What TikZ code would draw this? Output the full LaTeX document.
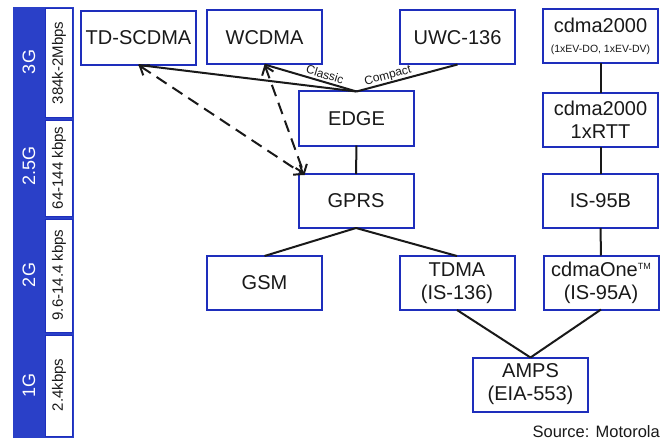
\documentclass[tikz,border=0pt]{standalone}
\usepackage{fontspec}
\setmainfont{Liberation Sans}
\usetikzlibrary{arrows.meta}
\definecolor{barblue}{RGB}{42,64,200}
\definecolor{edgeblue}{RGB}{30,46,188}
\definecolor{ink}{RGB}{25,25,25}
\tikzset{
  gen/.style={draw=edgeblue, line width=2pt, fill=white, minimum width=115pt,
    minimum height=54pt, inner sep=0pt, outer sep=0pt, align=center,
    text=ink, font=\fontsize{20}{23}\selectfont},
  link/.style={line width=2pt, draw=ink},
  migr/.style={link, dash pattern=on 12pt off 7pt,
    {Straight Barb[length=8pt,width=12pt]}-{Straight Barb[length=8pt,width=12pt]}},
  genlabel/.style={rotate=90, text=white, font=\fontsize{18}{20}\selectfont},
  ratelabel/.style={rotate=90, text=ink, font=\fontsize{15}{17}\selectfont},
  ratebox/.style={draw=edgeblue, line width=1pt, fill=white},
  tag/.style={text=ink, font=\fontsize{12}{14}\selectfont, inner sep=0pt}
}
\begin{document}
\begin{tikzpicture}[x=1pt, y=-1pt]
\useasboundingbox (0,0) rectangle (667,444);

% generation column with data rates
\fill[barblue] (13,7) rectangle (74,438);
\draw[ratebox] (45,9) rectangle (72,117);
\draw[ratebox] (45,120) rectangle (72,216);
\draw[ratebox] (45,219) rectangle (72,332);
\draw[ratebox] (45,335) rectangle (72,436);
\node[genlabel] (g3)  at (29,62)  {3G};
\node[genlabel] (g25) at (29,166) {2.5G};
\node[genlabel] (g2)  at (29,275) {2G};
\node[genlabel] (g1)  at (29,385) {1G};
\node[ratelabel] (r3)  at (59,63)  {384k-2Mbps};
\node[ratelabel] (r25) at (59,168) {64-144 kbps};
\node[ratelabel] (r2)  at (59,275) {9.6-14.4 kbps};
\node[ratelabel] (r1)  at (59,385) {2.4kbps};

% technologies
\node[gen] (tdscdma) at (138.5,38)  {TD-SCDMA};
\node[gen] (wcdma)   at (264.5,37.5){WCDMA};
\node[gen] (uwc)     at (457.5,37.5){UWC-136};
\node[gen] (cdmaA)   at (600.5,36.5){cdma2000\\[-3pt]{\fontsize{10.5}{12}\selectfont (1xEV-DO, 1xEV-DV)}};
\node[gen] (cdmaB)   at (600.5,120) {cdma2000\\1xRTT};
\node[gen] (edge)    at (356.5,118.5){EDGE};
\node[gen] (gprs)    at (356,201)   {GPRS};
\node[gen] (isb)     at (600.5,201) {IS-95B};
\node[gen] (gsm)     at (264.5,283) {GSM};
\node[gen] (tdma)    at (457,283)   {TDMA\\(IS-136)};
\node[gen] (cdmaone) at (601,282.5) {cdmaOne\raisebox{7pt}{\fontsize{9}{10}\selectfont TM}\\(IS-95A)};
\node[gen] (amps)    at (530.5,384.5){AMPS\\(EIA-553)};

% evolution paths
\coordinate (gprsin) at ([xshift=6pt,yshift=-1pt]gprs.north west);
\draw[link] (tdscdma.south) -- (edge.north);
\draw[link] (wcdma.south) -- (edge.north);
\draw[link] (edge.north) -- (uwc.south);
\draw[migr] (tdscdma.south) -- (gprsin);
\draw[migr] (wcdma.south) -- (gprsin);
\draw[link] (edge.south) -- (gprs.north);
\draw[link] (gprs.south) -- (gsm.north);
\draw[link] (gprs.south) -- (tdma.north);
\draw[link] (cdmaA.south) -- (cdmaB.north);
\draw[link] (cdmaB.south) -- (isb.north);
\draw[link] (isb.south) -- (cdmaone.north);
\draw[link] (tdma.south) -- (amps.north);
\draw[link] (cdmaone.south) -- (amps.north);

\node[tag, rotate=-17] (classic) at (325,74.5) {Classic};
\node[tag, rotate=15]  (compact) at (388,76) {Compact};

\node[anchor=east, text=ink, font=\fontsize{16.5}{18}\selectfont, inner sep=0pt] (src) at (660,432) {Source: Motorola};
\end{tikzpicture}
\end{document}
